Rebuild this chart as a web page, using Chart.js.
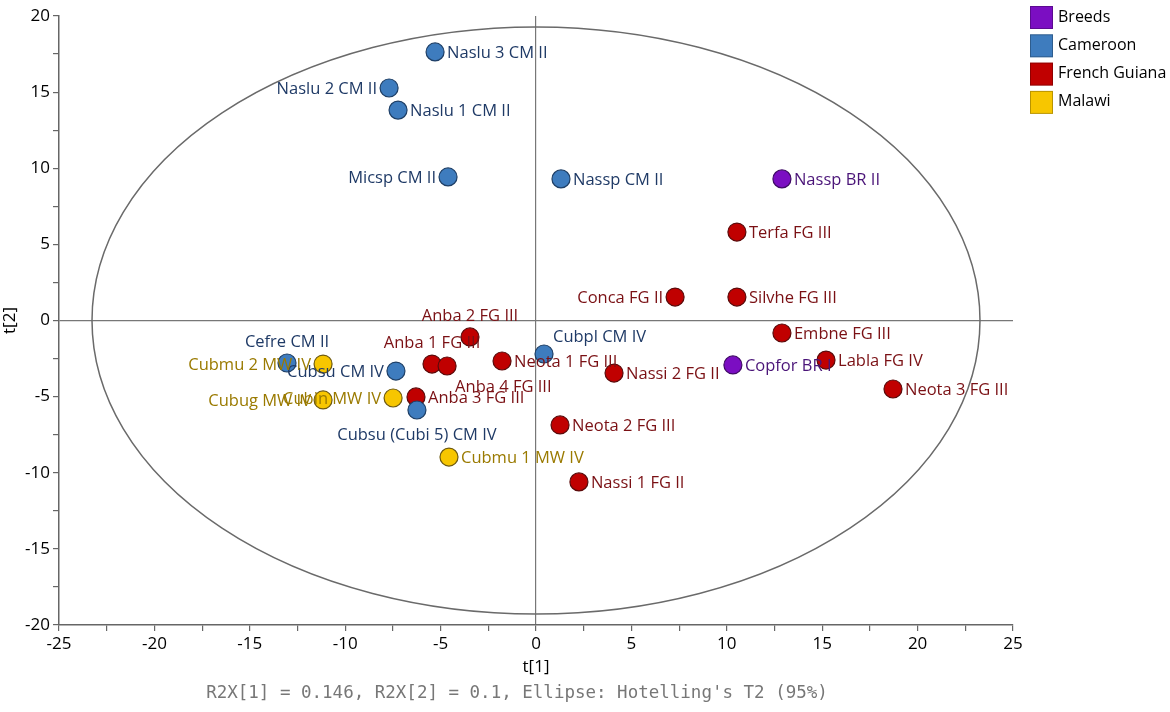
<!DOCTYPE html>
<html>
<head>
<meta charset="utf-8">
<script src="https://cdn.jsdelivr.net/npm/chart.js@4.4.1/dist/chart.umd.min.js"></script>
<style>
    body { margin: 0; background: #fff; }
    #box { width: 1170px; height: 712px; }
</style>
</head>
<body>
<div id="box"><canvas id="Chart-1"></canvas></div>
<script>
// score plot values
const groupNames = ['Breeds', 'Cameroon', 'French Guiana', 'Malawi'];
const sampleNames = [
    'Naslu 3 CM II', 'Naslu 2 CM II', 'Naslu 1 CM II', 'Micsp CM II', 'Nassp CM II',
    'Nassp BR II', 'Terfa FG III', 'Conca FG II', 'Silvhe FG III', 'Embne FG III',
    'Labla FG IV', 'Neota 3 FG III', 'Copfor BR I', 'Nassi 2 FG II', 'Neota 2 FG III',
    'Nassi 1 FG II', 'Cubpl CM IV', 'Neota 1 FG III', 'Anba 2 FG III', 'Anba 1 FG III',
    'Anba 4 FG III', 'Anba 3 FG III', 'Cubsu CM IV', 'Cubsu (Cubi 5) CM IV', 'Cubin MW IV',
    'Cubmu 1 MW IV', 'Cefre CM II', 'Cubmu 2 MW IV', 'Cubug MW IV'
];
const t1Values = [
    -5.29, -7.70, -7.23, -4.61, 1.31,
    12.89, 10.53, 7.29, 10.53, 12.89,
    15.20, 18.71, 10.32, 4.09, 1.26,
    2.25, 0.42, -1.78, -3.46, -5.45,
    -4.66, -6.29, -7.34, -6.24, -7.49,
    -4.56, -13.05, -11.16, -11.16
];
const t2Values = [
    17.64, 15.27, 13.82, 9.43, 9.30,
    9.30, 5.81, 1.54, 1.54, -0.82,
    -2.60, -4.50, -2.92, -3.45, -6.86,
    -10.60, -2.20, -2.66, -1.08, -2.86,
    -2.99, -5.02, -3.32, -5.88, -5.09,
    -8.97, -2.79, -2.86, -5.22
];
const sampleGroups = [
    'Cameroon', 'Cameroon', 'Cameroon', 'Cameroon', 'Cameroon',
    'Breeds', 'French Guiana', 'French Guiana', 'French Guiana', 'French Guiana',
    'French Guiana', 'French Guiana', 'Breeds', 'French Guiana', 'French Guiana',
    'French Guiana', 'Cameroon', 'French Guiana', 'French Guiana', 'French Guiana',
    'French Guiana', 'French Guiana', 'Cameroon', 'Cameroon', 'Malawi',
    'Malawi', 'Cameroon', 'Malawi', 'Malawi'
];
// where each name sits next to its point
const labelSide = [
    'right', 'left', 'right', 'left', 'right',
    'right', 'right', 'left', 'right', 'right',
    'right', 'right', 'right', 'right', 'right',
    'right', 'aboveRight', 'right', 'above', 'above',
    'belowRight', 'right', 'left', 'below', 'left',
    'right', 'above', 'left', 'left'
];
const tickStep = 2.5;
const ellipseT1 = 23.27;   // Hotelling's T2 (95%) half axes
const ellipseT2 = 19.28;
const footText = "R2X[1] = 0.146, R2X[2] = 0.1, Ellipse: Hotelling's T2 (95%)";

const fillColors = {
    'Breeds': '#7B0EC2',
    'Cameroon': '#3E7CBE',
    'French Guiana': '#C00000',
    'Malawi': '#F7C600'
};
const edgeColors = {
    'Breeds': '#3F0A66',
    'Cameroon': '#1E3F66',
    'French Guiana': '#5A0A0A',
    'Malawi': '#6E5A10'
};
const textColors = {
    'Breeds': '#4A1478',
    'Cameroon': '#1F3A66',
    'French Guiana': '#7A1014',
    'Malawi': '#9A7A00'
};

const datasets = groupNames.map(function (g) {
    const pts = [];
    sampleNames.forEach(function (n, i) {
        if (sampleGroups[i] === g) {
            pts.push({ x: t1Values[i], y: t2Values[i], name: n, side: labelSide[i] });
        }
    });
    return {
        label: g,
        data: pts,
        pointRadius: 9,
        pointHoverRadius: 9,
        pointBackgroundColor: fillColors[g],
        pointBorderColor: edgeColors[g],
        pointBorderWidth: 1.2
    };
});

const ellipsePlugin = {
    id: 'ellipse',
    beforeDatasetsDraw(chart) {
        const xs = chart.scales.x, ys = chart.scales.y, ctx = chart.ctx;
        const cx = xs.getPixelForValue(0), cy = ys.getPixelForValue(0);
        const rx = xs.getPixelForValue(ellipseT1) - cx;
        const ry = cy - ys.getPixelForValue(ellipseT2);
        ctx.save();
        ctx.strokeStyle = '#6a6a6a';
        ctx.lineWidth = 1.5;
        ctx.beginPath();
        ctx.ellipse(cx, cy, rx, ry, 0, 0, Math.PI * 2);
        ctx.stroke();
        ctx.restore();
    }
};

const namesPlugin = {
    id: 'names',
    afterDatasetsDraw(chart) {
        const ctx = chart.ctx;
        ctx.save();
        ctx.font = '16.5px "Open Sans"';
        ctx.textBaseline = 'middle';
        chart.data.datasets.forEach(function (ds, di) {
            const meta = chart.getDatasetMeta(di);
            ctx.fillStyle = textColors[ds.label];
            meta.data.forEach(function (el, i) {
                const p = ds.data[i];
                let dx = 12, dy = 1, align = 'left';
                if (p.side === 'left') { dx = -12; align = 'right'; }
                else if (p.side === 'above') { dx = 0; dy = -21; align = 'center'; }
                else if (p.side === 'below') { dx = 0; dy = 25; align = 'center'; }
                else if (p.side === 'aboveRight') { dx = 9; dy = -17; align = 'left'; }
                else if (p.side === 'belowRight') { dx = 8; dy = 21; align = 'left'; }
                ctx.textAlign = align;
                ctx.fillText(p.name, el.x + dx, el.y + dy);
            });
        });
        ctx.restore();
    },
    afterDraw(chart) {
        const ctx = chart.ctx;
        ctx.save();
        // legend at top right
        ctx.font = '16px "Open Sans"';
        ctx.textBaseline = 'middle';
        ctx.textAlign = 'left';
        groupNames.forEach(function (g, i) {
            const y = 6 + i * 28.3;
            ctx.fillStyle = fillColors[g];
            ctx.fillRect(1030, y, 23, 23);
            ctx.strokeStyle = 'rgba(0,0,0,0.25)';
            ctx.lineWidth = 1;
            ctx.strokeRect(1030.5, y + 0.5, 22, 22);
            ctx.fillStyle = '#000';
            ctx.fillText(g, 1058, y + 11);
        });
        // note under the axis
        ctx.font = '17.5px "DejaVu Sans Mono"';
        ctx.fillStyle = '#777';
        ctx.textAlign = 'center';
        ctx.fillText(footText, chart.scales.x.getPixelForValue(0) - 19, 693);
        ctx.restore();
    }
};

function axisLabel(v) {
    return v % 5 === 0 ? v : '';
}

new Chart(document.getElementById('Chart-1'), {
    type: 'scatter',
    data: { datasets: datasets },
    plugins: [ellipsePlugin, namesPlugin],
    options: {
        responsive: true,
        maintainAspectRatio: false,
        animation: false,
        layout: {
            padding: { top: 16, right: 157, bottom: 35, left: 0 }
        },
        plugins: {
            legend: { display: false },
            tooltip: { enabled: false }
        },
        scales: {
            x: {
                min: -25,
                max: 25,
                afterFit: function (s) { s.height = 52; },
                ticks: {
                    stepSize: tickStep,
                    autoSkip: false,
                    maxRotation: 0,
                    color: '#000',
                    padding: 3,
                    font: { family: 'Open Sans', size: 17 },
                    callback: axisLabel
                },
                grid: {
                    color: function (c) { return c.tick && c.tick.value === 0 ? '#777' : 'rgba(0,0,0,0)'; },
                    tickColor: '#666',
                    tickLength: 6,
                    lineWidth: 1.2
                },
                border: { color: '#666', width: 1.5 },
                title: {
                    display: true,
                    text: 't[1]',
                    color: '#000',
                    font: { family: 'Open Sans', size: 17 },
                    padding: { top: 0, bottom: 0 }
                }
            },
            y: {
                min: -20,
                max: 20,
                afterFit: function (s) { s.width = 59; },
                ticks: {
                    stepSize: tickStep,
                    autoSkip: false,
                    color: '#000',
                    padding: 3,
                    font: { family: 'Open Sans', size: 17 },
                    callback: axisLabel
                },
                grid: {
                    color: function (c) { return c.tick && c.tick.value === 0 ? '#777' : 'rgba(0,0,0,0)'; },
                    tickColor: '#666',
                    tickLength: 6,
                    lineWidth: 1.2
                },
                border: { color: '#666', width: 1.5 },
                title: {
                    display: true,
                    text: 't[2]',
                    color: '#000',
                    font: { family: 'Open Sans', size: 17 },
                    padding: { top: 0, bottom: 0 }
                }
            }
        }
    }
});
</script>
</body>
</html>
